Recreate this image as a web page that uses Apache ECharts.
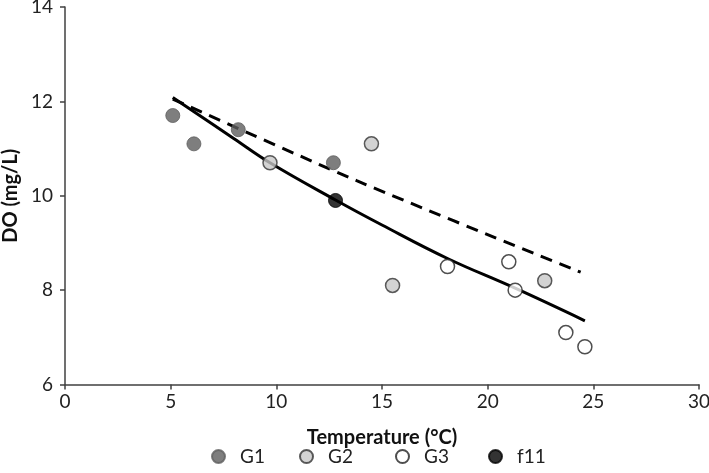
<!DOCTYPE html>
<html><head><meta charset="utf-8">
<script src="https://cdn.jsdelivr.net/npm/echarts@6/dist/echarts.min.js"></script>
<style>html,body{margin:0;padding:0;background:#fff}#c{width:709px;height:473px}</style>
</head><body><div id="c"></div>
<script>
const g1 = [[5.1, 11.7], [6.1, 11.1], [8.2, 11.4], [12.7, 10.7]];
const g2 = [[9.7, 10.7], [14.5, 11.1], [15.5, 8.1], [22.7, 8.2]];
const g3 = [[18.1, 8.5], [21.0, 8.6], [21.3, 8.0], [23.7, 7.1], [24.6, 6.8]];
const f11 = [[12.8, 9.9]];
const solidFit = [[5.1, 12.08], [8.0, 11.21], [9.7, 10.70], [12.8, 9.91], [15.0, 9.38], [18.1, 8.67], [21.3, 8.04], [24.6, 7.35]];
const dashedFit = [[5.1, 12.05], [13.8, 10.32], [24.4, 8.38]];
const xTicks = [0, 5, 10, 15, 20, 25, 30];
const yTicks = [6, 8, 10, 12, 14];
const legendNames = ['G1', 'G2', 'G3', 'f11'];

const font = 'Lato, "Open Sans", sans-serif';
const legendLeft = [206, 294, 390, 483];
const chart = echarts.init(document.getElementById('c'), null, {renderer: 'canvas'});
chart.setOption({
  animation: false,
  backgroundColor: '#fff',
  grid: {left: 65, right: 10, top: 7, bottom: 88.5, containLabel: false, outerBoundsMode: 'none'},
  xAxis: {
    type: 'value', min: xTicks[0], max: xTicks[xTicks.length - 1], interval: 5,
    name: 'Temperature (°C)', nameLocation: 'middle', nameGap: 43,
    nameTextStyle: {fontFamily: font, fontSize: 20, fontWeight: 'bold', color: '#111'},
    axisLine: {lineStyle: {color: '#404040', width: 1.5}},
    axisTick: {show: true, length: 5, lineStyle: {color: '#404040', width: 1.5}},
    axisLabel: {fontFamily: font, fontSize: 19, color: '#222', margin: 8},
    splitLine: {show: false}
  },
  yAxis: {
    type: 'value', min: yTicks[0], max: yTicks[yTicks.length - 1], interval: 2,
    name: 'DO (mg/L)', nameLocation: 'middle', nameGap: 44,
    nameTextStyle: {fontFamily: font, fontSize: 20, fontWeight: 'bold', color: '#111'},
    axisLine: {show: true, lineStyle: {color: '#404040', width: 1.5}},
    axisTick: {show: true, length: 5, lineStyle: {color: '#404040', width: 1.5}},
    axisLabel: {fontFamily: font, fontSize: 19, color: '#222', margin: 12},
    splitLine: {show: false}
  },
  legend: legendNames.map((n, i) => ({
    bottom: 2, left: legendLeft[i], itemWidth: 13, itemHeight: 13,
    textStyle: {fontFamily: font, fontSize: 19, color: '#222', padding: [0, 0, 0, 10]},
    data: [n]
  })),
  series: [
    {type: 'line', data: solidFit, smooth: 0.4, symbol: 'none', lineStyle: {color: '#000', width: 3}, z: 2, silent: true},
    {type: 'line', data: dashedFit, smooth: 0.3, symbol: 'none', lineStyle: {color: '#000', width: 3, type: [12, 8]}, z: 2, silent: true},
    {name: 'G1', type: 'scatter', data: g1, symbol: 'circle', symbolSize: 14,
     itemStyle: {color: '#5e5e5e', borderColor: '#5e5e5e', borderWidth: 1}, z: 3},
    {name: 'G2', type: 'scatter', data: g2, symbol: 'circle', symbolSize: 14,
     itemStyle: {color: '#c8c8c8', borderColor: '#333', borderWidth: 1.5}, z: 3},
    {name: 'G3', type: 'scatter', data: g3, symbol: 'circle', symbolSize: 14,
     itemStyle: {color: '#fff', borderColor: '#222', borderWidth: 1.5}, z: 3},
    {name: 'f11', type: 'scatter', data: f11, symbol: 'circle', symbolSize: 14,
     itemStyle: {color: '#000', borderColor: '#000', borderWidth: 1}, z: 4}
  ]
});
</script></body></html>
